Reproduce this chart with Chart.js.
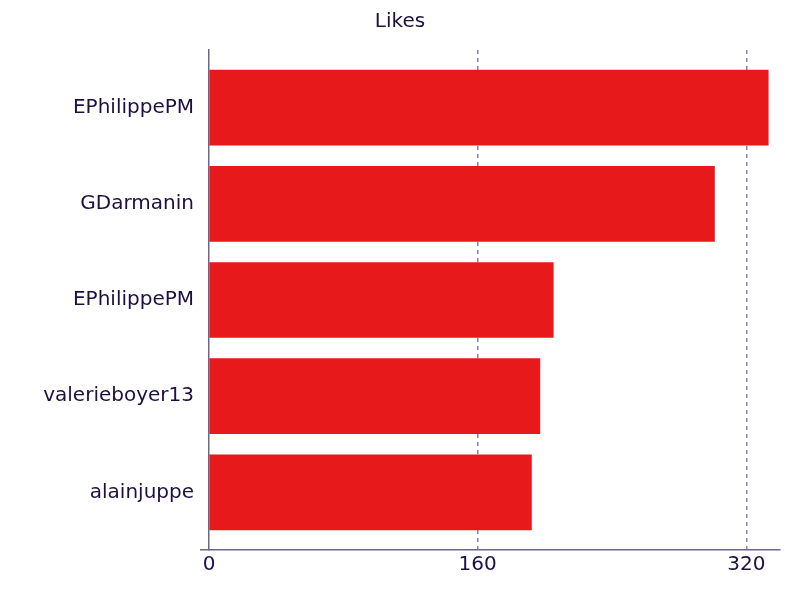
<!DOCTYPE html>
<html>
<head>
<meta charset="utf-8">
<script src="https://cdn.jsdelivr.net/npm/chart.js@4/dist/chart.umd.min.js"></script>
<style>
  html, body { margin: 0; padding: 0; background: #ffffff; }
  #wrap { width: 800px; height: 600px; position: relative; }
</style>
</head>
<body>
<div id="wrap"><canvas id="likes-chart"></canvas></div>
<script>
const accounts = ['EPhilippePM', 'GDarmanin', 'EPhilippePM', 'valerieboyer13', 'alainjuppe'];
const likes = [333, 301, 205, 197, 192];
const xTicks = [0, 160, 320];

const textColor = '#1e1040';
const axisColor = '#6e6490';
const gridColor = '#8a80a8';
const barColor = '#e8191a';

Chart.defaults.font.family = '"DejaVu Sans", sans-serif';
Chart.defaults.font.size = 20;
Chart.defaults.color = textColor;

const ctx = document.getElementById('likes-chart');

new Chart(ctx, {
  type: 'bar',
  data: {
    datasets: [
      {
        label: 'Likes',
        data: likes.map((v, i) => ({ x: v, y: i })),
        backgroundColor: barColor,
        borderWidth: 0,
        barThickness: 75,
      },
    ],
  },
  options: {
    indexAxis: 'y',
    animation: false,
    responsive: true,
    maintainAspectRatio: false,
    layout: { padding: { left: 0, right: 0, top: 0, bottom: 20 } },
    plugins: {
      legend: { display: false },
      tooltip: { enabled: false },
      title: {
        display: true,
        text: 'Likes',
        color: textColor,
        font: { size: 20, weight: 'normal' },
        padding: { top: 10, bottom: 16 },
      },
    },
    scales: {
      x: {
        type: 'linear',
        min: 0,
        max: 340,
        afterBuildTicks: (axis) => {
          axis.ticks = xTicks.map((v) => ({ value: v }));
        },
        ticks: { color: textColor, padding: 3, font: { size: 20 } },
        grid: {
          drawTicks: false,
          color: (c) => (c.tick && c.tick.value === 0 ? 'transparent' : gridColor),
          lineWidth: 1.5,
        },
        border: { display: true, color: axisColor, width: 1.5, dash: [4, 4] },
      },
      y: {
        type: 'linear',
        reverse: true,
        offset: false,
        min: -0.6,
        max: 4.6,
        afterFit: (axis) => {
          axis.width = 209;
        },
        ticks: {
          stepSize: 1,
          autoSkip: false,
          padding: 6,
          color: textColor,
          font: { size: 20 },
          callback: (value) => (Number.isInteger(value) ? accounts[value] : ''),
        },
        grid: {
          offset: false,
          drawOnChartArea: false,
          tickLength: 9,
          lineWidth: 1.5,
          color: (c) => (c.tick && c.tick.value > 4.5 ? axisColor : 'transparent'),
        },
        border: { display: true, color: axisColor, width: 1.5 },
      },
      rightPad: {
        type: 'linear',
        position: 'right',
        display: true,
        afterFit: (axis) => {
          axis.width = 20;
        },
        ticks: { display: false },
        grid: { display: false },
        border: { display: false },
      },
    },
  },
});
</script>
</body>
</html>
